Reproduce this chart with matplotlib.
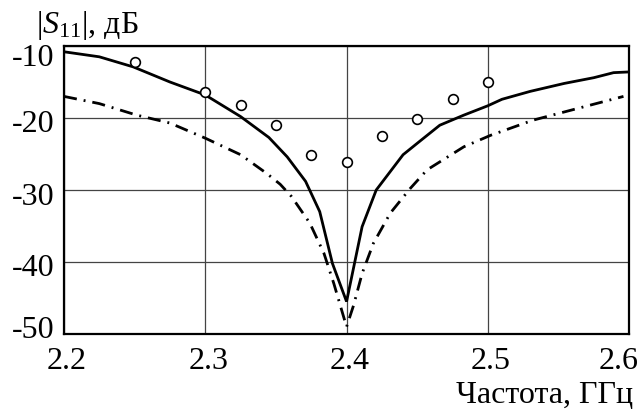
import matplotlib
matplotlib.use("Agg")
import matplotlib.pyplot as plt
import matplotlib.transforms as mtransforms

# Data
solid_x = [2.200, 2.225, 2.249, 2.275, 2.300, 2.325, 2.345, 2.358, 2.371, 2.381,
           2.390, 2.400, 2.411, 2.421, 2.440, 2.452, 2.466, 2.483, 2.500, 2.510,
           2.530, 2.554, 2.575, 2.589, 2.600]
solid_y = [-10.8, -11.5, -12.9, -15.0, -16.8, -19.8, -22.7, -25.4, -28.8, -33.0,
           -40.2, -45.5, -35.1, -30.0, -25.1, -23.2, -21.0, -19.6, -18.3, -17.4,
           -16.3, -15.2, -14.4, -13.7, -13.6]

dd_x = [2.200, 2.225, 2.2515, 2.275, 2.300, 2.325, 2.3435, 2.353, 2.361, 2.374,
        2.384, 2.391, 2.400, 2.405, 2.411, 2.419, 2.431, 2.445, 2.457, 2.483,
        2.502, 2.532, 2.563, 2.596]
dd_y = [-17.0, -18.0, -19.6, -20.7, -22.8, -25.1, -27.7, -29.2, -30.9, -34.6,
        -38.8, -43.0, -49.0, -46.0, -41.6, -37.4, -33.2, -29.8, -27.2, -24.0,
        -22.4, -20.3, -18.7, -17.0]

meas_x = [2.25, 2.30, 2.325, 2.35, 2.375, 2.40, 2.425, 2.45, 2.475, 2.50]
meas_y = [-12.2, -16.4, -18.2, -21.0, -25.1, -26.1, -22.5, -20.1, -17.3, -15.0]

x_ticks = [2.2, 2.3, 2.4, 2.5, 2.6]
x_ticklabels = ["2.2", "2.3", "2.4", "2.5", "2.6"]
y_ticks = [-10, -20, -30, -40, -50]
y_ticklabels = ["-10", "-20", "-30", "-40", "-50"]

# label placement tweaks (pixels)
y_label_drop_px = [20, 14, 15, 14.5, 4]
x_label_shift_px = [3, 3, 3, 3, -10]
x_label_drop_px = 35

FS = 23
plt.rcParams['font.family'] = ['Liberation Serif', 'DejaVu Serif']
plt.rcParams['mathtext.fontset'] = 'custom'
plt.rcParams['mathtext.rm'] = 'Liberation Serif'
plt.rcParams['mathtext.it'] = 'Liberation Serif:italic'

fig = plt.figure(figsize=(6.4, 4.09), dpi=100)
ax = fig.add_axes([0.1, 0.1834, 0.883, 0.7041])

ax.set_xlim(2.2, 2.6)
ax.set_ylim(-50, -10)
ax.set_xticks(x_ticks)
ax.set_xticklabels(x_ticklabels)
ax.set_yticks(y_ticks)
ax.set_yticklabels(y_ticklabels)
ax.tick_params(length=0, labelsize=FS)
ax.tick_params(axis='x', pad=0)
ax.tick_params(axis='y', pad=7)

for lab, d in zip(ax.get_yticklabels(), y_label_drop_px):
    lab.set_va('baseline')
    lab.set_transform(lab.get_transform() +
                      mtransforms.ScaledTranslation(0, -d / 100, fig.dpi_scale_trans))
for lab, s in zip(ax.get_xticklabels(), x_label_shift_px):
    lab.set_va('baseline')
    lab.set_transform(lab.get_transform() +
                      mtransforms.ScaledTranslation(s / 100, -x_label_drop_px / 100,
                                                    fig.dpi_scale_trans))

ax.grid(True, color='#444444', linewidth=0.9)
ax.set_axisbelow(True)
for s in ax.spines.values():
    s.set_linewidth(1.6)
    s.set_color('black')

ax.plot(solid_x, solid_y, color='black', linewidth=2.0, solid_joinstyle='miter')
ax.plot(dd_x, dd_y, color='black', linewidth=2.0, linestyle=(0, (4.7, 2.5, 0.7, 2.5)))
ax.plot(meas_x, meas_y, linestyle='none', marker='o', markersize=7,
        markerfacecolor='white', markeredgecolor='black', markeredgewidth=1.2,
        clip_on=False)

fig.text(36/640, 1 - 33/409, r'|$S_{11}$|, дБ', fontsize=FS, va='baseline', ha='left')
fig.text(633/640, 1 - 403/409, 'Частота, ГГц', fontsize=FS, va='baseline', ha='right')

fig.savefig('out.png', dpi=100)
